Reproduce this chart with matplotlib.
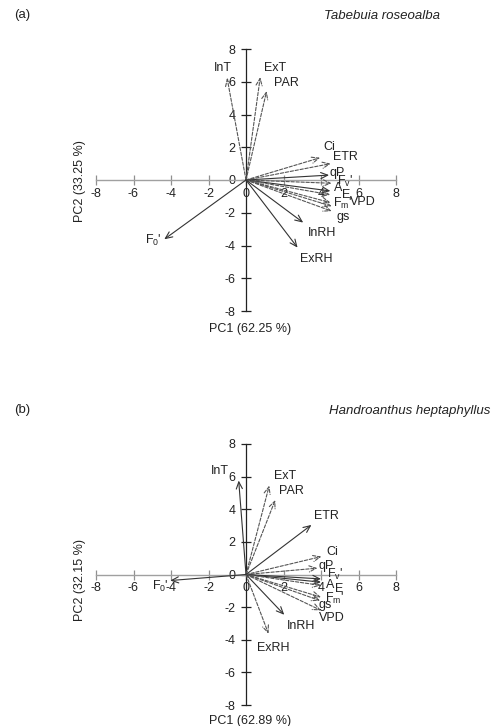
import matplotlib
matplotlib.use('Agg')
import matplotlib.pyplot as plt

plt.rcParams['font.family'] = ['Liberation Sans', 'DejaVu Sans']
plt.rcParams['mathtext.default'] = 'regular'

# ---------------- data ----------------
variables = ['InT', 'ExT', 'PAR', 'Ci', 'ETR', 'qP', "Fv'", 'A', 'E', "Fm'",
             'VPD', 'gs', 'InRH', 'ExRH', "F0'"]

# Panel (a) Tabebuia roseoalba loadings
pc1_a = [-1.01, 0.76, 1.10, 3.95, 4.52, 4.43, 4.57, 4.50, 4.50, 4.50, 4.57, 4.57, 3.05, 2.75, -4.36]
pc2_a = [6.24, 6.28, 5.43, 1.36, 1.00, 0.30, -0.20, -0.67, -0.90, -1.38, -1.60, -1.90, -2.60, -4.13, -3.62]

# Panel (b) Handroanthus heptaphyllus loadings
pc1_b = [-0.39, 1.24, 1.56, 4.02, 3.49, 3.81, 4.00, 4.00, 4.00, 4.00, 4.00, 3.95, 2.04, 1.20, -4.04]
pc2_b = [5.76, 5.45, 4.57, 1.10, 3.04, 0.39, -0.27, -0.47, -0.67, -1.39, -2.20, -1.60, -2.47, -3.63, -0.37]

titles = ['Tabebuia roseoalba', 'Handroanthus heptaphyllus']
panel_tags = ['(a)', '(b)']
xlabels = ['PC1 (62.25 %)', 'PC1 (62.89 %)']
ylabels = ['PC2 (33.25 %)', 'PC2 (32.15 %)']
ticks = [-8, -6, -4, -2, 0, 2, 4, 6, 8]

display = {'InT': 'InT', 'ExT': 'ExT', 'PAR': 'PAR', 'Ci': 'Ci', 'ETR': 'ETR',
           'qP': 'qP', "Fv'": r"F$_v$'", 'A': 'A', 'E': 'E', "Fm'": r"F$_m$'",
           'VPD': 'VPD', 'gs': 'gs', 'InRH': 'InRH', 'ExRH': 'ExRH', "F0'": r"F$_0$'"}

# ---------------- layout / style ----------------
dashed_a = {'InT', 'ExT', 'PAR', 'Ci', 'ETR', "Fv'", 'E', "Fm'", 'VPD', 'gs'}
dashed_b = {'ExT', 'PAR', 'Ci', 'qP', 'E', "Fm'", 'gs', 'VPD', 'ExRH'}
# label offsets (data units) from arrow tips
off_a = {'InT': (-0.23, 0.61), 'ExT': (0.78, 0.57), 'PAR': (1.05, 0.51), 'Ci': (0.48, 0.68),
         'ETR': (0.80, 0.42), 'qP': (0.43, 0.11), "Fv'": (0.70, 0.14), 'A': (0.40, 0.21),
         'E': (0.86, 0.0), "Fm'": (0.63, -0.05), 'VPD': (1.67, 0.28), 'gs': (0.61, -0.39),
         'InRH': (1.03, -0.61), 'ExRH': (1.01, -0.71), "F0'": (-0.57, -0.10)}
off_b = {'InT': (-0.99, 0.58), 'ExT': (0.83, 0.58), 'PAR': (0.87, 0.54), 'ETR': (0.80, 0.54),
         'Ci': (0.57, 0.27), 'qP': (0.48, 0.16), "Fv'": (0.73, 0.27), 'A': (0.47, -0.16),
         'E': (0.96, -0.21), "Fm'": (0.70, -0.10), 'VPD': (0.56, -0.48), 'gs': (0.25, -0.30),
         'InRH': (0.92, -0.70), 'ExRH': (0.24, -0.85), "F0'": (-0.53, -0.37)}

fig = plt.figure(figsize=(4.91, 7.26), dpi=100)

axes_rects = [[96 / 491, 1 - 311 / 726, 300 / 491, 262 / 726],
              [96 / 491, 1 - 705 / 726, 300 / 491, 261 / 726]]
panels = [(pc1_a, pc2_a, dashed_a, off_a), (pc1_b, pc2_b, dashed_b, off_b)]
tag_y = [15, 410]
xlab_y = [329, 721]
ylab_y = [181, 580]
title_x = [440, 490]

for i, (rect, (px, py, dset, off)) in enumerate(zip(axes_rects, panels)):
    ax = fig.add_axes(rect)
    ax.set_xlim(-8, 8)
    ax.set_ylim(-8, 8)
    ax.spines['top'].set_visible(False)
    ax.spines['right'].set_visible(False)
    ax.spines['left'].set_position('zero')
    ax.spines['bottom'].set_position('zero')
    ax.spines['bottom'].set_color('#a0a0a0')
    ax.spines['left'].set_color('#222222')
    ax.spines['bottom'].set_linewidth(1.0)
    ax.spines['left'].set_linewidth(0.9)
    ax.set_xticks(ticks)
    ax.set_yticks(ticks)
    ax.set_xticklabels([str(t) for t in ticks])
    ax.set_yticklabels([str(t) for t in ticks])
    ax.tick_params(axis='x', direction='inout', length=7, width=0.9, color='#909090',
                   labelsize=9, pad=2, labelcolor='#222222')
    ax.tick_params(axis='y', direction='inout', length=7, width=0.9, color='#222222',
                   labelsize=9, pad=4, labelcolor='#222222')
    ax.patch.set_alpha(0)

    for name, x, y in zip(variables, px, py):
        dashed = name in dset
        col = '#555555' if dashed else '#333333'
        ax.annotate('', xy=(x, y), xytext=(0, 0),
                    arrowprops=dict(arrowstyle='->,head_length=0.5,head_width=0.22',
                                    color=col, lw=0.8,
                                    linestyle=(0, (3, 1.5)) if dashed else '-',
                                    shrinkA=0, shrinkB=0))
        dx, dy = off[name]
        ax.text(x + dx, y + dy, display[name], ha='center', va='center',
                fontsize=9, color='#222222')

    fig.text(14 / 491, 1 - tag_y[i] / 726, panel_tags[i], fontsize=9.5,
             ha='left', va='center', color='#222222')
    fig.text(title_x[i] / 491, 1 - (tag_y[i] + 1) / 726, titles[i], fontsize=9.5,
             style='italic', ha='right', va='center', color='#222222')
    fig.text(250 / 491, 1 - xlab_y[i] / 726, xlabels[i], fontsize=9,
             ha='center', va='center', color='#222222')
    fig.text(80 / 491, 1 - ylab_y[i] / 726, ylabels[i], fontsize=9, rotation=90,
             ha='center', va='center', color='#222222')

fig.savefig('out.png', dpi=100, facecolor='white')
